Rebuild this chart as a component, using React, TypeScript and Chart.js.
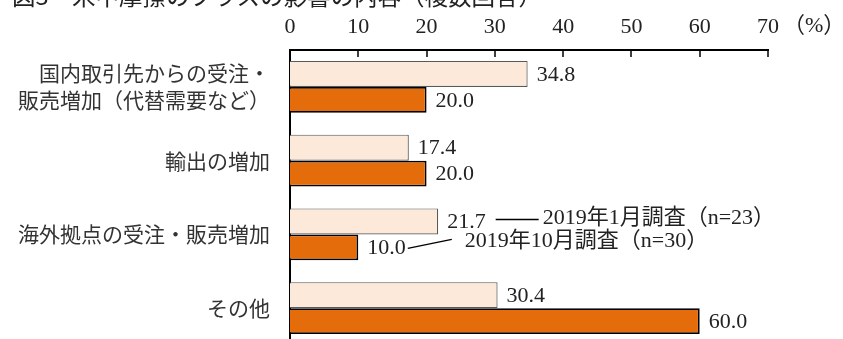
import { useEffect, useRef } from "react";
import { Chart, registerables } from "chart.js";

Chart.register(...registerables);

// Survey categories (first one wraps onto two lines)
const categories: (string | string[])[] = [
  ["国内取引先からの受注・", "販売増加（代替需要など）"],
  "輸出の増加",
  "海外拠点の受注・販売増加",
  "その他",
];
const seriesNames = ["2019年1月調査（n=23）", "2019年10月調査（n=30）"];
const jan2019 = [34.8, 17.4, 21.7, 30.4];
const oct2019 = [20.0, 20.0, 10.0, 60.0];
const xTicks = [0, 10, 20, 30, 40, 50, 60, 70];
const unitLabel = "（%）";
const titleText = "図3　米中摩擦のプラスの影響の内容（複数回答）";
// category whose data labels carry the series leader lines
const noteCategory = 2;

const SERIF = "'Liberation Serif', 'Noto Sans CJK JP', serif";
const SANS_JP = "'Noto Sans CJK JP', sans-serif";

const decorations = {
  id: "decorations",
  afterDraw(chart: any) {
    const { ctx, chartArea, scales } = chart;
    const xs = scales.x;
    ctx.save();

    // heading, running off the top edge
    ctx.fillStyle = "#222";
    ctx.font = `23.5px ${SANS_JP}`;
    ctx.textAlign = "left";
    ctx.textBaseline = "middle";
    ctx.fillText(titleText, 12, -4);

    // tick marks pointing into the plot
    ctx.strokeStyle = "#000";
    ctx.lineWidth = 1.5;
    ctx.beginPath();
    xTicks.forEach((v) => {
      const px = Math.round(xs.getPixelForValue(v));
      ctx.moveTo(px, chartArea.top);
      ctx.lineTo(px, chartArea.top + 7);
    });
    ctx.stroke();

    // unit next to the last tick label
    ctx.fillStyle = "#222";
    ctx.font = `22px ${SERIF}`;
    ctx.textBaseline = "middle";
    ctx.fillText(unitLabel, xs.getPixelForValue(70) + 15, 26);

    // value labels
    const labelEnds: number[][] = [];
    chart.data.datasets.forEach((ds: any, di: number) => {
      const meta = chart.getDatasetMeta(di);
      labelEnds[di] = [];
      meta.data.forEach((bar: any, i: number) => {
        const text = Number(ds.data[i]).toFixed(1);
        const x0 = bar.x + 9;
        ctx.fillText(text, x0, bar.y + 1);
        labelEnds[di][i] = x0 + ctx.measureText(text).width;
      });
    });

    // series names with leader lines from the labels of one category
    const leaders = [
      { from: 10, to: 53, dy0: -2, dy1: -2, textAt: 57, textDy: -3 },
      { from: 2, to: 46, dy0: 1, dy1: -8, textAt: 59, textDy: -6 },
    ];
    ctx.strokeStyle = "#000";
    ctx.lineWidth = 1.5;
    leaders.forEach((l, di) => {
      const bar = chart.getDatasetMeta(di).data[noteCategory];
      const end = labelEnds[di][noteCategory];
      ctx.beginPath();
      ctx.moveTo(end + l.from, bar.y + l.dy0);
      ctx.lineTo(end + l.to, bar.y + l.dy1);
      ctx.stroke();
      ctx.fillText(seriesNames[di], end + l.textAt, bar.y + l.textDy);
    });

    ctx.restore();
  },
};

export default function App() {
  const canvasRef = useRef<HTMLCanvasElement | null>(null);

  useEffect(() => {
    const canvas = canvasRef.current;
    if (!canvas) return;
    const chart = new Chart(canvas, {
      type: "bar",
      data: {
        labels: categories,
        datasets: [
          {
            label: seriesNames[0],
            data: jan2019,
            backgroundColor: "#FDE9D9",
            borderColor: "#595959",
            borderWidth: 1.2,
            categoryPercentage: 0.705,
            barPercentage: 1,
          },
          {
            label: seriesNames[1],
            data: oct2019,
            backgroundColor: "#E46C0A",
            borderColor: "#000000",
            borderWidth: 1.8,
            categoryPercentage: 0.705,
            barPercentage: 1,
          },
        ],
      },
      options: {
        indexAxis: "y",
        animation: false,
        responsive: false,
        layout: { padding: { left: 0, top: 0, right: 75, bottom: 5 } },
        plugins: {
          legend: { display: false },
          tooltip: { enabled: false },
          title: { display: false },
        },
        scales: {
          x: {
            position: "top",
            min: 0,
            max: 70,
            ticks: {
              stepSize: 10,
              padding: 2,
              color: "#222",
              maxRotation: 0,
              autoSkip: false,
              font: { family: SERIF, size: 22 },
            },
            grid: { display: false },
            border: { display: true, color: "#000", width: 2 },
            afterFit: (s: any) => {
              s.height = 50;
              s.paddingLeft = 0;
              s.paddingRight = 0;
            },
          },
          y: {
            ticks: {
              padding: 12,
              color: "#333",
              autoSkip: false,
              font: { family: SANS_JP, size: 21, lineHeight: 1.29 },
            },
            grid: { display: false },
            border: { display: true, color: "#000", width: 2 },
            afterFit: (s: any) => {
              s.width = 290;
              s.paddingTop = 0;
              s.paddingBottom = 0;
            },
          },
        },
      },
      plugins: [decorations],
    });
    return () => chart.destroy();
  }, []);

  return (
    <div
      style={{
        position: "absolute",
        left: 0,
        top: 0,
        width: 843,
        height: 339,
        overflow: "hidden",
        background: "#fff",
      }}
    >
      <canvas ref={canvasRef} width={843} height={350} style={{ width: 843, height: 350, display: "block" }} />
    </div>
  );
}
